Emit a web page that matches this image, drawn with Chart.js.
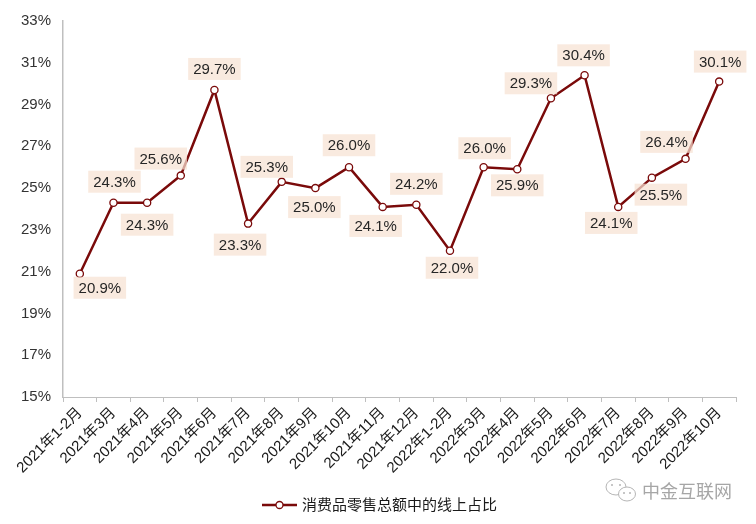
<!DOCTYPE html>
<html><head><meta charset="utf-8">
<script src="https://cdn.jsdelivr.net/npm/chart.js@4"></script>
<style>html,body{margin:0;padding:0;background:#fff}#wrap{width:756px;height:524px;position:relative}</style>
</head><body><div id="wrap"><canvas id="c" width="756" height="524"></canvas></div>
<script>
const categories = ["2021年1-2月","2021年3月","2021年4月","2021年5月","2021年6月","2021年7月","2021年8月","2021年9月","2021年10月","2021年11月","2021年12月","2022年1-2月","2022年3月","2022年4月","2022年5月","2022年6月","2022年7月","2022年8月","2022年9月","2022年10月"];
const onlineShare = [20.9,24.3,24.3,25.6,29.7,23.3,25.3,25.0,26.0,24.1,24.2,22.0,26.0,25.9,29.3,30.4,24.1,25.5,26.4,30.1];
const seriesName = "消费品零售总额中的线上占比";
const yTicks = [15,17,19,21,23,25,27,29,31,33];
// label offsets (style)
const labelDx = [20,1,0,-20,0,-8,-15,-1,0,-7,0,2,1,0,-20,-1,-7,9,-19,1];
const labelDy = [14,-21,22,-17,-21,21,-15,19,-22,19,-21,17,-19,16,-15,-20,16,17,-17,-20];

const FONT = "'Liberation Sans', Arial, 'Noto Sans CJK SC', sans-serif";
const LINE = "#7a0a0a";

const labelPlugin = {
  id: 'lbl',
  afterDatasetsDraw(chart) {
    const ctx = chart.ctx;
    const meta = chart.getDatasetMeta(0);
    ctx.save();
    ctx.font = "15px " + FONT;
    ctx.textAlign = 'center';
    ctx.textBaseline = 'middle';
    meta.data.forEach((pt, i) => {
      const txt = onlineShare[i].toFixed(1) + '%';
      const w = ctx.measureText(txt).width + 10;
      const h = 22;
      const cx = pt.x + labelDx[i], cy = pt.y + labelDy[i];
      ctx.fillStyle = 'rgba(247,226,211,0.72)';
      ctx.fillRect(cx - w/2, cy - h/2, w, h);
      ctx.fillStyle = '#262626';
      ctx.fillText(txt, cx, cy + 1);
    });
    ctx.restore();
  },
  afterDraw(chart) {
    const ctx = chart.ctx;
    ctx.save();
    // legend
    const ly = 505;
    ctx.strokeStyle = LINE; ctx.lineWidth = 2.5;
    ctx.beginPath(); ctx.moveTo(262, ly); ctx.lineTo(297, ly); ctx.stroke();
    ctx.beginPath(); ctx.arc(279.5, ly, 3.5, 0, Math.PI*2);
    ctx.fillStyle = '#fff'; ctx.fill(); ctx.lineWidth = 1.3; ctx.stroke();
    ctx.fillStyle = '#1a1a1a'; ctx.font = "15px " + FONT;
    ctx.textBaseline = 'middle'; ctx.textAlign = 'left';
    ctx.fillText(seriesName, 302, ly + 1);
    // watermark
    ctx.strokeStyle = '#b5b5b5'; ctx.lineWidth = 1;
    ctx.beginPath(); ctx.ellipse(616, 487, 10, 8, 0, 0, Math.PI*2); ctx.stroke();
    ctx.fillStyle = '#fff';
    ctx.beginPath(); ctx.ellipse(627, 494, 8.5, 7, 0, 0, Math.PI*2); ctx.fill(); ctx.stroke();
    ctx.fillStyle = '#b5b5b5';
    [[612,485],[620,485],[624,493],[630,493]].forEach(([x,y])=>{ctx.beginPath();ctx.arc(x,y,1,0,Math.PI*2);ctx.fill();});
    ctx.fillStyle = '#a6a6a6'; ctx.font = "18px 'Noto Sans CJK SC', sans-serif";
    ctx.fillText("中金互联网", 642, 491);
    ctx.restore();
  }
};

new Chart(document.getElementById('c'), {
  type: 'line',
  data: {
    labels: categories,
    datasets: [{
      label: seriesName,
      data: onlineShare,
      borderColor: LINE,
      borderWidth: 2.5,
      pointRadius: 3.6,
      pointBorderWidth: 1.3,
      pointBackgroundColor: '#fff',
      pointBorderColor: LINE,
      tension: 0
    }]
  },
  options: {
    responsive: false,
    animation: false,
    layout: { padding: { left: 0, right: 20, top: 18, bottom: 0 } },
    plugins: { legend: { display: false }, tooltip: { enabled: false } },
    scales: {
      x: {
        offset: true,
        grid: { offset: true, drawOnChartArea: false, drawTicks: true, tickLength: 5, color: '#bfbfbf', lineWidth: 1 },
        border: { color: '#bfbfbf', width: 1 },
        ticks: { autoSkip: false, maxRotation: 45, minRotation: 45, padding: 2, color: '#1a1a1a', font: { size: 15, family: FONT } },
        afterFit(s) { s.height = 524 - 397; }
      },
      y: {
        min: 15, max: 33,
        afterBuildTicks(s) { s.ticks = yTicks.map(v => ({ value: v })); },
        grid: { display: false, drawTicks: false },
        border: { color: '#bfbfbf', width: 1.5 },
        ticks: { padding: 12, color: '#333', font: { size: 15, family: FONT }, callback: v => v + '%' },
        afterFit(s) { s.width = 63; }
      }
    }
  },
  plugins: [labelPlugin]
});
</script></body></html>
